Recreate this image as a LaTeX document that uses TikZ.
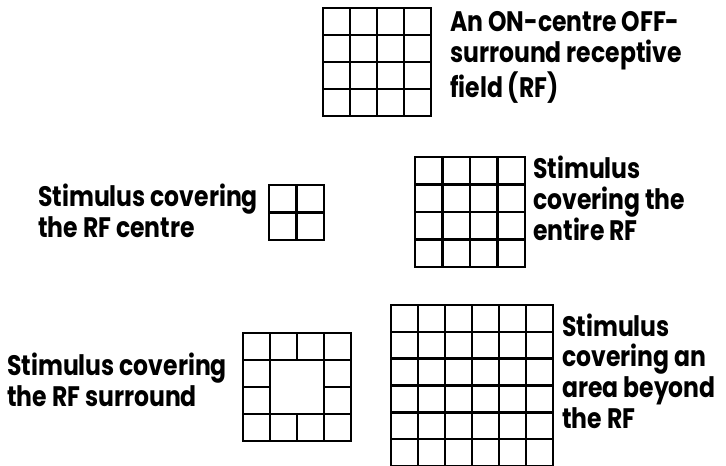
\documentclass[tikz,border=0pt]{standalone}
\usepackage{fontspec}
\setmainfont{Poppins}
\usetikzlibrary{positioning, calc}

\tikzset{
  gridline/.style={line width=2.6pt, black, line cap=rect},
  caption/.style={font=\fontsize{23.5}{25.5}\selectfont\bfseries, align=left, inner sep=0pt,
    anchor=base west, transform shape, yscale=1.2}
}

\begin{document}
\begin{tikzpicture}[x=1pt, y=-1pt]
\useasboundingbox (0,0) rectangle (726,466);

% ON-centre OFF-surround receptive field
\foreach \i in {0,...,4} {
  \draw[gridline] (323+\i*27, 8) -- (323+\i*27, 116);
  \draw[gridline] (323, 8+\i*27) -- (431, 8+\i*27);
}
\node[caption] (rf) at (450, 97) {An ON-centre OFF-\\surround receptive\\field (RF)};

% stimulus on the centre
\foreach \i in {0,...,2} {
  \draw[gridline] (269+\i*27.5, 185) -- (269+\i*27.5, 240);
  \draw[gridline] (269, 185+\i*27.5) -- (324, 185+\i*27.5);
}
\node[caption] (centre) at (38, 237) {Stimulus covering\\the RF centre};

% stimulus on the entire RF
\foreach \i in {0,...,4} {
  \draw[gridline] (415+\i*27.5, 157) -- (415+\i*27.5, 267);
  \draw[gridline] (415, 157+\i*27.5) -- (525, 157+\i*27.5);
}
\node[caption] (entire) at (533, 240) {Stimulus\\covering the\\entire RF};

% stimulus on the surround
\draw[gridline] (243,333) rectangle (351,441);
\foreach \x in {270,324} \draw[gridline] (\x,333) -- (\x,441);
\foreach \y in {360,414} \draw[gridline] (243,\y) -- (351,\y);
\foreach \x in {297} {
  \draw[gridline] (\x,333) -- (\x,360);
  \draw[gridline] (\x,414) -- (\x,441);
}
\draw[gridline] (243,387) -- (270,387);
\draw[gridline] (324,387) -- (351,387);
\node[caption] (surround) at (7, 406) {Stimulus covering\\the RF surround};

% stimulus beyond the RF
\foreach \i in {0,...,6} {
  \draw[gridline] (391+\i*27, 305) -- (391+\i*27, 466);
  \draw[gridline] (391, 305+\i*26.8) -- (553, 305+\i*26.8);
}
\node[caption] (beyond) at (562, 428) {Stimulus\\covering an\\area beyond\\the RF};
\end{tikzpicture}
\end{document}
